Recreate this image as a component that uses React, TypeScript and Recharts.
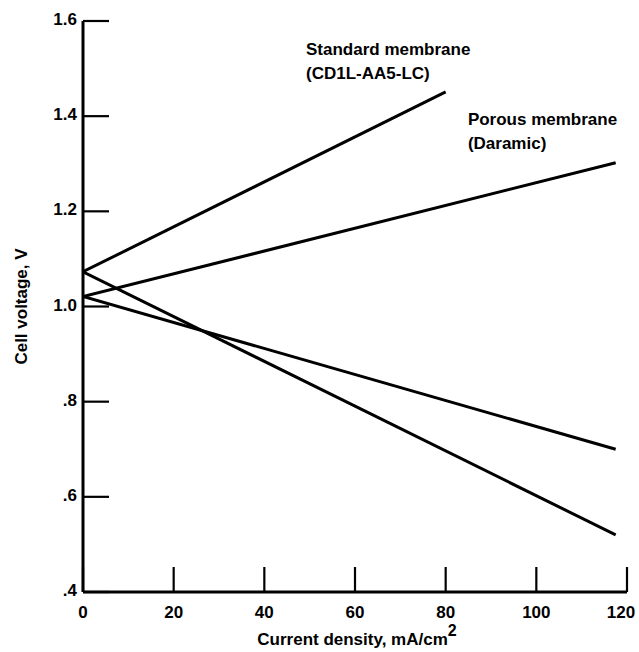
import React from 'react'
import { LineChart, Line, XAxis, YAxis, ReferenceDot } from 'recharts'

// tick values
const xTicks = [0, 20, 40, 60, 80, 100, 120]
const yTicks = [0.4, 0.6, 0.8, 1.0, 1.2, 1.4, 1.6]
const yTickLabels = ['.4', '.6', '.8', '1.0', '1.2', '1.4', '1.6']

// current density (mA/cm2) and cell voltage (V)
const stdChargeX = [0, 80]
const stdChargeV = [1.073, 1.451]
const porousChargeX = [0, 117.5]
const porousChargeV = [1.021, 1.302]
const stdDischargeX = [0, 117.5]
const stdDischargeV = [1.073, 0.52]
const porousDischargeX = [0, 117.5]
const porousDischargeV = [1.021, 0.7]

// annotation anchors (data coords)
const stdLabelAt = [49.2, 1.529]
const stdLabelLines = ['Standard membrane', '(CD1L-AA5-LC)']
const porousLabelAt = [84.9, 1.382]
const porousLabelLines = ['Porous membrane', '(Daramic)']

const FONT = '"Liberation Sans", Arial, sans-serif'
const toRows = (xs: number[], vs: number[]) => xs.map((x, i) => ({ x, v: vs[i] }))

const series = [
  { key: 'stdCharge', data: toRows(stdChargeX, stdChargeV) },
  { key: 'porousCharge', data: toRows(porousChargeX, porousChargeV) },
  { key: 'stdDischarge', data: toRows(stdDischargeX, stdDischargeV) },
  { key: 'porousDischarge', data: toRows(porousDischargeX, porousDischargeV) },
]

const YTick = (p: any) => {
  const i = yTicks.indexOf(p.payload.value)
  return (
    <g>
      <line x1={p.x} x2={p.x + 26} y1={p.y} y2={p.y} stroke="#000" strokeWidth={2.2} />
      <text x={p.x - 6} y={p.y + 4} textAnchor="end" fontFamily={FONT} fontWeight={700} fontSize={17} fill="#000">
        {i >= 0 ? yTickLabels[i] : p.payload.value}
      </text>
    </g>
  )
}

const XTick = (p: any) => {
  // last label sits a bit left of its tick so it stays on the page
  const last = p.payload.value === xTicks[xTicks.length - 1]
  return (
    <g>
      <line x1={p.x} x2={p.x} y1={p.y} y2={p.y - 25} stroke="#000" strokeWidth={2.2} />
      <text x={last ? p.x - 6 : p.x} y={p.y + 26} textAnchor="middle" fontFamily={FONT} fontWeight={700} fontSize={17} fill="#000">
        {p.payload.value}
      </text>
    </g>
  )
}

const xTitle = (p: any) => {
  const vb = p.viewBox
  return (
    <text x={vb.x + vb.width / 2 + 2} y={vb.y + 53} textAnchor="middle" fontFamily={FONT} fontWeight={700} fontSize={17} fill="#000">
      Current density,  mA/cm<tspan dy={-9} fontSize={16}>2</tspan>
    </text>
  )
}

const yTitle = (p: any) => {
  const vb = p.viewBox
  const cx = vb.x + 27
  const cy = vb.y + vb.height / 2
  return (
    <text x={cx} y={cy} transform={`rotate(-90 ${cx} ${cy})`} textAnchor="middle" fontFamily={FONT} fontWeight={700} fontSize={17} fill="#000">
      Cell voltage, V
    </text>
  )
}

const noteLabel = (lines: string[]) => (p: any) => {
  const vb = p.viewBox
  return (
    <text x={vb.x} y={vb.y} fontFamily={FONT} fontWeight={700} fontSize={17} fill="#000">
      {lines.map((t, i) => (
        <tspan key={i} x={vb.x} dy={i === 0 ? 0 : 24}>{t}</tspan>
      ))}
    </text>
  )
}

export default function App() {
  return (
    <div style={{ position: 'absolute', left: 0, top: 0, width: 639, height: 652, background: '#fff' }}>
      <LineChart width={639} height={652} margin={{ top: 21, right: 12, left: 0, bottom: 0 }}>
        <XAxis
          type="number"
          dataKey="x"
          domain={[0, 120]}
          ticks={xTicks}
          interval={0}
          height={60}
          tickSize={0}
          tickMargin={0}
          tick={XTick}
          axisLine={{ stroke: '#000', strokeWidth: 3 }}
          allowDataOverflow
          label={xTitle}
        />
        <YAxis
          type="number"
          dataKey="v"
          domain={[0.4, 1.6]}
          ticks={yTicks}
          interval={0}
          width={83}
          tickSize={0}
          tickMargin={0}
          tick={YTick}
          axisLine={{ stroke: '#000', strokeWidth: 3 }}
          allowDataOverflow
          label={yTitle}
        />
        {series.map(s => (
          <Line
            key={s.key}
            data={s.data}
            dataKey="v"
            type="linear"
            stroke="#000"
            strokeWidth={3}
            dot={false}
            activeDot={false}
            isAnimationActive={false}
          />
        ))}
        <ReferenceDot x={stdLabelAt[0]} y={stdLabelAt[1]} r={0} fill="none" stroke="none" label={noteLabel(stdLabelLines)} />
        <ReferenceDot x={porousLabelAt[0]} y={porousLabelAt[1]} r={0} fill="none" stroke="none" label={noteLabel(porousLabelLines)} />
      </LineChart>
    </div>
  )
}
